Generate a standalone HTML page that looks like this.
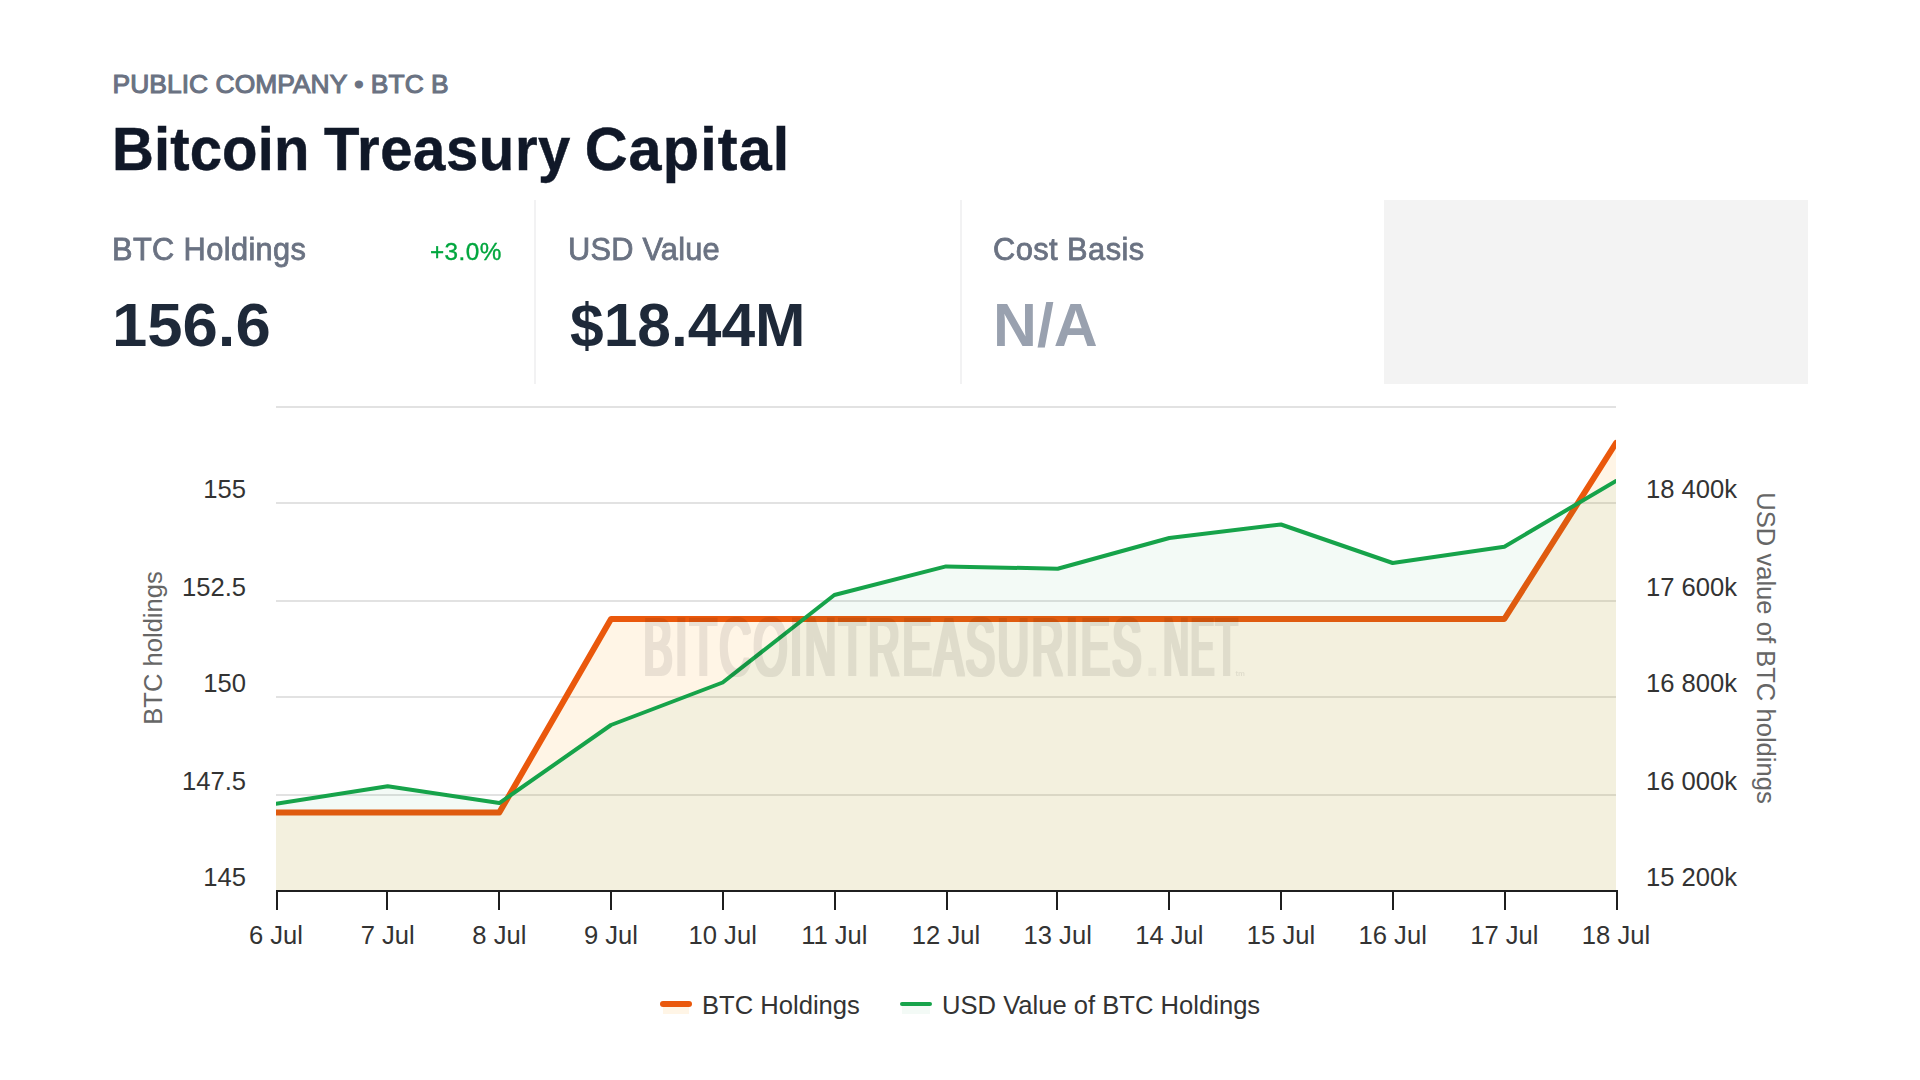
<!DOCTYPE html>
<html lang="en">
<head>
<meta charset="utf-8">
<title>Bitcoin Treasury Capital</title>
<style>
html,body{margin:0;padding:0;background:#fff;}
body{width:1920px;height:1080px;position:relative;overflow:hidden;font-family:"Liberation Sans",Arial,sans-serif;}
.t{position:absolute;white-space:nowrap;line-height:1;margin:0;}
#sub{left:112.6px;top:70.85px;font-size:26.4px;color:#6a7282;letter-spacing:0.04px;-webkit-text-stroke:1.1px #6a7282;}
#title{left:111.9px;top:118.9px;font-size:60.5px;font-weight:bold;color:#101828;letter-spacing:0.67px;transform:scaleX(0.9587);transform-origin:0 0;-webkit-text-stroke:0.5px #101828;}
.lbl{font-size:31.6px;color:#6a7282;letter-spacing:0.37px;-webkit-text-stroke:0.8px #6a7282;transform:scaleX(0.975);transform-origin:0 0;}
.val{font-size:60.9px;font-weight:bold;color:#1e2939;transform-origin:0 0;}
#chg{left:429.8px;top:241.05px;font-size:23.5px;color:#00a63e;letter-spacing:0.4px;-webkit-text-stroke:0.35px #00a63e;transform:scaleX(1.035);transform-origin:0 0;}
.bd{position:absolute;top:200px;height:183.8px;width:2px;background:#f2f2f3;}
#gray{position:absolute;left:1384px;top:200px;width:424px;height:183.8px;background:#f3f3f3;}
svg{position:absolute;left:0;top:0;}
svg text{font-family:"Liberation Sans",Arial,sans-serif;}
</style>
</head>
<body>
<div class="t" id="sub">PUBLIC COMPANY • BTC B</div>
<h1 class="t" id="title"><span style="letter-spacing:0.14px">Bitcoin</span> <span style="margin-left:-2.3px">Treasury</span> <span style="display:inline-block;margin-left:-3.5px;letter-spacing:1.2px;transform:scaleX(1.022);transform-origin:0 50%">Capital</span></h1>

<div class="t lbl" style="left:111.7px;top:234.1px;">BTC Holdings</div>
<div class="t" id="chg">+3.0%</div>
<div class="t val" style="left:112px;top:295.25px;transform:scaleX(1.042);">156.6</div>
<div class="bd" style="left:534px;"></div>

<div class="t lbl" style="left:568.2px;top:234.1px;letter-spacing:0.2px;">USD Value</div>
<div class="t val" style="left:569.5px;top:295.25px;transform:scaleX(0.994);">$18.44M</div>
<div class="bd" style="left:960px;"></div>

<div class="t lbl" style="left:992.7px;top:234.1px;letter-spacing:0.45px;">Cost Basis</div>
<div class="t val" style="left:993px;top:295.25px;color:#99a1af;transform:scaleX(0.998);">N/A</div>

<div id="gray"></div>

<svg width="1920" height="1080" viewBox="0 0 1920 1080">
<defs><clipPath id="plot"><rect x="276" y="406" width="1340" height="484"/></clipPath></defs>
<rect x="276" y="406" width="1340" height="2" fill="#e2e2e2"/>
<rect x="276" y="502" width="1340" height="2" fill="#e2e2e2"/>
<rect x="276" y="600" width="1340" height="2" fill="#e2e2e2"/>
<rect x="276" y="696" width="1340" height="2" fill="#e2e2e2"/>
<rect x="276" y="794" width="1340" height="2" fill="#e2e2e2"/>
<g clip-path="url(#plot)">
<path d="M276.00 812.50 L387.67 812.50 L499.33 812.50 L611.00 619.00 L722.67 619.00 L834.33 619.00 L946.00 619.00 L1057.67 619.00 L1169.33 619.00 L1281.00 619.00 L1392.67 619.00 L1504.33 619.00 L1616.00 443.00 L1616 890 L276 890 Z" fill="#fb9a08" fill-opacity="0.1"/>
<path d="M276.00 812.50 L387.67 812.50 L499.33 812.50 L611.00 619.00 L722.67 619.00 L834.33 619.00 L946.00 619.00 L1057.67 619.00 L1169.33 619.00 L1281.00 619.00 L1392.67 619.00 L1504.33 619.00 L1616.00 443.00" fill="none" stroke="#ea580c" stroke-width="6" stroke-linejoin="round" stroke-linecap="round"/>
<path d="M276.00 803.75 L387.67 786.25 L499.33 803.10 L611.00 725.00 L722.67 682.50 L834.33 595.00 L946.00 566.40 L1057.67 568.75 L1169.33 538.00 L1281.00 524.50 L1392.67 563.00 L1504.33 546.70 L1616.00 481.00 L1616 890 L276 890 Z" fill="#16a34a" fill-opacity="0.05"/>
<path d="M276.00 803.75 L387.67 786.25 L499.33 803.10 L611.00 725.00 L722.67 682.50 L834.33 595.00 L946.00 566.40 L1057.67 568.75 L1169.33 538.00 L1281.00 524.50 L1392.67 563.00 L1504.33 546.70 L1616.00 481.00" fill="none" stroke="#16a34a" stroke-width="4" stroke-linejoin="round" stroke-linecap="round"/>
</g>
<rect x="276" y="890" width="1342" height="2" fill="#1f1f1f"/>
<rect x="276" y="890" width="2" height="20" fill="#1f1f1f"/>
<rect x="386" y="890" width="2" height="20" fill="#1f1f1f"/>
<rect x="498" y="890" width="2" height="20" fill="#1f1f1f"/>
<rect x="610" y="890" width="2" height="20" fill="#1f1f1f"/>
<rect x="722" y="890" width="2" height="20" fill="#1f1f1f"/>
<rect x="834" y="890" width="2" height="20" fill="#1f1f1f"/>
<rect x="946" y="890" width="2" height="20" fill="#1f1f1f"/>
<rect x="1056" y="890" width="2" height="20" fill="#1f1f1f"/>
<rect x="1168" y="890" width="2" height="20" fill="#1f1f1f"/>
<rect x="1280" y="890" width="2" height="20" fill="#1f1f1f"/>
<rect x="1392" y="890" width="2" height="20" fill="#1f1f1f"/>
<rect x="1504" y="890" width="2" height="20" fill="#1f1f1f"/>
<rect x="1616" y="890" width="2" height="20" fill="#1f1f1f"/>
<g font-size="25.6" fill="#333" text-anchor="middle">
<text x="276.00" y="943.7">6 Jul</text>
<text x="387.67" y="943.7">7 Jul</text>
<text x="499.33" y="943.7">8 Jul</text>
<text x="611.00" y="943.7">9 Jul</text>
<text x="722.67" y="943.7">10 Jul</text>
<text x="834.33" y="943.7">11 Jul</text>
<text x="946.00" y="943.7">12 Jul</text>
<text x="1057.67" y="943.7">13 Jul</text>
<text x="1169.33" y="943.7">14 Jul</text>
<text x="1281.00" y="943.7">15 Jul</text>
<text x="1392.67" y="943.7">16 Jul</text>
<text x="1504.33" y="943.7">17 Jul</text>
<text x="1616.00" y="943.7">18 Jul</text>
</g>
<g font-size="25.6" fill="#333" text-anchor="end">
<text x="246" y="497.7">155</text>
<text x="246" y="595.7">152.5</text>
<text x="246" y="691.7">150</text>
<text x="246" y="789.7">147.5</text>
<text x="246" y="885.7">145</text>
</g>
<g font-size="25.6" fill="#333" text-anchor="start">
<text x="1646" y="497.7">18 400k</text>
<text x="1646" y="595.7">17 600k</text>
<text x="1646" y="691.7">16 800k</text>
<text x="1646" y="789.7">16 000k</text>
<text x="1646" y="885.7">15 200k</text>
</g>
<text font-size="25.6" fill="#666" text-anchor="middle" transform="translate(161.5 648) rotate(-90)">BTC holdings</text>
<text font-size="25.6" fill="#666" text-anchor="middle" transform="translate(1757 648) rotate(90)">USD value of BTC holdings</text>
<defs><filter id="fat" x="-2%" y="-5%" width="104%" height="110%"><feMorphology operator="dilate" radius="2.1 0.8"/></filter></defs>
<g opacity="0.08" fill="#000">
<text x="643.6" y="675.4" font-size="81.6" textLength="500.5" lengthAdjust="spacingAndGlyphs" letter-spacing="5" filter="url(#fat)">BITCOINTREASURIES</text>
<text x="1144.6" y="676.2" font-size="56" font-weight="bold" fill-opacity="0.55">.</text>
<text x="1163.4" y="675.4" font-size="81.6" textLength="76" lengthAdjust="spacingAndGlyphs" letter-spacing="5" filter="url(#fat)">NET</text>
<text x="1235.5" y="675.5" font-size="8" font-weight="bold" textLength="9.5" lengthAdjust="spacingAndGlyphs">tm</text>
</g>
<rect x="663" y="1004" width="26" height="10" fill="#fb9a08" fill-opacity="0.1"/>
<path d="M663 1004 H689" stroke="#ea580c" stroke-width="6" stroke-linecap="round"/>
<text x="702" y="1013.8" font-size="25.6" fill="#333">BTC Holdings</text>
<rect x="902" y="1004" width="28" height="10" fill="#16a34a" fill-opacity="0.05"/>
<path d="M902 1004 H930" stroke="#16a34a" stroke-width="4" stroke-linecap="round"/>
<text x="942" y="1013.8" font-size="25.6" fill="#333">USD Value of BTC Holdings</text>
</svg>
</body>
</html>
